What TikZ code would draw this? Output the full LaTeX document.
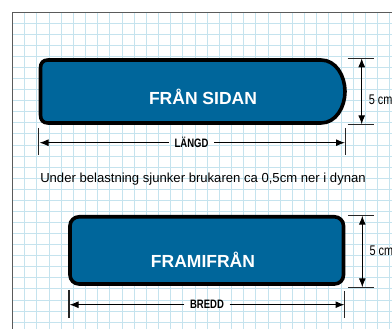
\documentclass[tikz,border=0pt]{standalone}
\usepackage{fontspec}
\setmainfont{Liberation Sans}
\newfontfamily\narrowfont[FakeStretch=0.78]{Liberation Sans}
\usepackage{xcolor}
\usetikzlibrary{positioning,arrows.meta}
\definecolor{cushionblue}{HTML}{00669B}
\definecolor{gridblue}{HTML}{C5E3EE}
\definecolor{framegray}{HTML}{5A5A5A}

\tikzset{
    gridline/.style={gridblue, line width=1pt},
    cushion/.style={draw=black, fill=cushionblue, line width=3.6pt},
    viewlabel/.style={white, font=\bfseries\fontsize{17.5}{20}\selectfont, inner sep=0pt},
    dimlabel/.style={font=\narrowfont\bfseries\fontsize{12.2}{14}\selectfont, inner sep=5.5pt, text=black},
    sizelabel/.style={font=\narrowfont\fontsize{14}{16}\selectfont, inner sep=0pt, anchor=west, text=black},
    dimarrow/.style={{Latex[length=9pt,width=7pt]}-{Latex[length=9pt,width=7pt]}, line width=1pt},
    onearrow/.style={-{Latex[length=9pt,width=7pt]}, line width=1pt},
    dimtick/.style={line width=1.2pt, black!85}
}

\begin{document}
\begin{tikzpicture}[x=1pt, y=-1pt]

\useasboundingbox (0,0) rectangle (392,329);
\clip (0,0) rectangle (392,329);

% Graph paper
\foreach \i in {0,...,31} {
    \draw[gridline] ({12.5+12.17*\i},13) -- ({12.5+12.17*\i},329);
}
\foreach \j in {0,...,27} {
    \draw[gridline] (12.5,{23.3+11.07*\j}) -- (392,{23.3+11.07*\j});
}
\draw[framegray, line width=1pt] (12.5,329) -- (12.5,13) -- (392,13);

% Side view
\draw[cushion] (48,60) -- (321,60)
    .. controls (336,60) and (345,76) .. (345,91.5)
    .. controls (345,107) and (336,123) .. (321,123)
    -- (48,123)
    .. controls (43,123) and (40.5,120) .. (40.5,115)
    -- (40.5,68)
    .. controls (40.5,63) and (43,60) .. (48,60) -- cycle;
\node[viewlabel] (sidelabel) at (203,97) {FRÅN SIDAN};

% Length
\coordinate (lengthleft) at (39.5,142.7);
\coordinate (lengthright) at (345,142.7);
\node[dimlabel] (lengthlabel) at (191.5,142.7) {LÄNGD};
\draw[onearrow] (lengthlabel) -- (lengthleft);
\draw[onearrow] (lengthlabel) -- (lengthright);
\draw[dimtick] (38.8,128) -- (38.8,155.5);
\draw[dimtick] (345.5,128) -- (345.5,155.5);

% Side height
\coordinate (sidetop) at (361.7,58.3);
\coordinate (sidebottom) at (361.7,124.3);
\draw[dimarrow] (sidetop) -- (sidebottom);
\draw[dimtick] (347.7,58.3) -- (373.7,58.3);
\draw[dimtick] (347.7,124.3) -- (373.7,124.3);
\node[sizelabel] (sideheight) at (368.7,99.3) {5 cm};

% Note
\node[inner sep=0pt, font=\fontsize{13.1}{15}\selectfont] (note) at (203,179) {Under belastning sjunker brukaren ca 0,5cm ner i dynan};

% Front view
\draw[cushion, rounded corners=9pt] (70,216.8) rectangle (343.5,284);
\node[viewlabel] (frontlabel) at (203,260) {FRAMIFRÅN};

% Width
\coordinate (widthleft) at (69.5,304.7);
\coordinate (widthright) at (344.5,304.7);
\node[dimlabel] (widthlabel) at (207,304.7) {BREDD};
\draw[onearrow] (widthlabel) -- (widthleft);
\draw[onearrow] (widthlabel) -- (widthright);
\draw[dimtick] (69,290) -- (69,317.7);
\draw[dimtick] (344.8,291) -- (344.8,318);

% Front height
\coordinate (fronttop) at (362.3,215.7);
\coordinate (frontbottom) at (362.3,287.3);
\draw[dimarrow] (fronttop) -- (frontbottom);
\draw[dimtick] (348.3,215.7) -- (374.3,215.7);
\draw[dimtick] (348.3,287.3) -- (374.3,287.3);
\node[sizelabel] (frontheight) at (369.3,250.3) {5 cm};

\end{tikzpicture}
\end{document}
